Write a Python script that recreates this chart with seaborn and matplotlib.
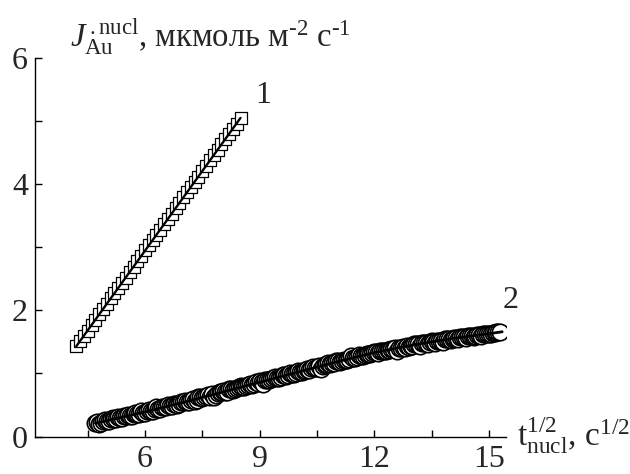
import matplotlib
matplotlib.use("Agg")
import matplotlib.pyplot as plt
import seaborn as sns
import pandas as pd

# ---- data ----
x1 = [4.2, 4.3, 4.4, 4.5, 4.6, 4.7, 4.8, 4.9, 5.0, 5.1, 5.2, 5.3, 5.4, 5.5, 5.6,
      5.7, 5.8, 5.9, 6.0, 6.1, 6.2, 6.3, 6.4, 6.5, 6.6, 6.7, 6.8, 6.9, 7.0, 7.1,
      7.2, 7.3, 7.4, 7.5, 7.6, 7.7, 7.8, 7.9, 8.0, 8.1, 8.2, 8.3, 8.4, 8.5]
y1 = [1.43, 1.51, 1.60, 1.68, 1.77, 1.85, 1.94, 2.02, 2.10, 2.19, 2.27, 2.36, 2.44,
      2.52, 2.61, 2.69, 2.78, 2.86, 2.95, 3.03, 3.11, 3.20, 3.28, 3.37, 3.45, 3.53,
      3.62, 3.70, 3.79, 3.87, 3.95, 4.04, 4.12, 4.21, 4.29, 4.38, 4.46, 4.54, 4.63,
      4.71, 4.80, 4.88, 4.96, 5.05]
fit1_x = [4.2, 8.5]
fit1_y = [1.43, 5.05]

x2_a = [4.7, 4.8, 4.9, 5.0, 5.1, 5.2, 5.3, 5.4, 5.5, 5.6, 5.7, 5.8, 5.9, 6.0, 6.1,
        6.2, 6.3, 6.4, 6.5, 6.6, 6.7, 6.8, 6.9, 7.0, 7.1, 7.2, 7.3, 7.4, 7.5, 7.6,
        7.7, 7.8, 7.9, 8.0, 8.1, 8.2, 8.3, 8.4, 8.5, 8.6, 8.7, 8.8, 8.9, 9.0, 9.1,
        9.2, 9.3, 9.4, 9.5, 9.6, 9.7, 9.8, 9.9, 10.0, 10.1, 10.2, 10.3, 10.4, 10.5,
        10.6, 10.7, 10.8, 10.9, 11.0, 11.1, 11.2, 11.3, 11.4, 11.5, 11.6, 11.7, 11.8,
        11.9, 12.0, 12.1, 12.2, 12.3, 12.4, 12.5, 12.6, 12.7, 12.8, 12.9, 13.0, 13.1,
        13.2, 13.3, 13.4, 13.5, 13.6, 13.7, 13.8, 13.9, 14.0, 14.1, 14.2, 14.3, 14.4,
        14.5, 14.6, 14.7, 14.8, 14.9, 15.0, 15.1, 15.2, 15.3]
y2_a = [0.21, 0.20, 0.25, 0.24, 0.28, 0.27, 0.31, 0.30, 0.33, 0.32, 0.36, 0.35, 0.40,
        0.37, 0.42, 0.40, 0.46, 0.44, 0.47, 0.50, 0.48, 0.52, 0.51, 0.55, 0.54, 0.58,
        0.57, 0.62, 0.61, 0.64, 0.63, 0.62, 0.69, 0.71, 0.70, 0.75, 0.74, 0.77, 0.80,
        0.78, 0.82, 0.81, 0.86, 0.88, 0.83, 0.90, 0.91, 0.94, 0.92, 0.97, 0.96, 1.00,
        0.99, 1.04, 1.02, 1.06, 1.05, 1.10, 1.09, 1.07, 1.14, 1.17, 1.16, 1.19, 1.18,
        1.22, 1.21, 1.27, 1.24, 1.29, 1.27, 1.31, 1.30, 1.34, 1.32, 1.36, 1.35, 1.37,
        1.38, 1.36, 1.41, 1.40, 1.42, 1.44, 1.47, 1.44, 1.49, 1.47, 1.51, 1.49, 1.52,
        1.50, 1.55, 1.53, 1.56, 1.54, 1.58, 1.56, 1.59, 1.58, 1.61, 1.60, 1.62, 1.62,
        1.64, 1.65, 1.66]
x2_b = [4.75, 4.85, 4.95, 5.05, 5.15, 5.25, 5.35, 5.45, 5.55, 5.65, 5.75, 5.85, 5.95,
        6.05, 6.15, 6.25, 6.35, 6.45, 6.55, 6.65, 6.75, 6.85, 6.95, 7.05, 7.15, 7.25,
        7.35, 7.45, 7.55, 7.65, 7.75, 7.85, 7.95, 8.05, 8.15, 8.25, 8.35, 8.45, 8.55,
        8.65, 8.75, 8.85, 8.95, 9.05, 9.15, 9.25, 9.35, 9.45, 9.55, 9.65, 9.75, 9.85,
        9.95, 10.05, 10.15, 10.25, 10.35, 10.45, 10.55, 10.65, 10.75, 10.85, 10.95,
        11.05, 11.15, 11.25, 11.35, 11.45, 11.55, 11.65, 11.75, 11.85, 11.95, 12.05,
        12.15, 12.25, 12.35, 12.45, 12.55, 12.65, 12.75, 12.85, 12.95, 13.05, 13.15,
        13.25, 13.35, 13.45, 13.55, 13.65, 13.75, 13.85, 13.95, 14.05, 14.15, 14.25,
        14.35, 14.45, 14.55, 14.65, 14.75, 14.85, 14.95, 15.05, 15.15, 15.25]
y2_b = [0.23, 0.22, 0.26, 0.25, 0.29, 0.28, 0.29, 0.32, 0.34, 0.33, 0.37, 0.36, 0.38,
        0.41, 0.40, 0.44, 0.43, 0.47, 0.46, 0.49, 0.52, 0.50, 0.54, 0.56, 0.55, 0.59,
        0.58, 0.62, 0.63, 0.65, 0.67, 0.66, 0.70, 0.72, 0.71, 0.75, 0.76, 0.78, 0.79,
        0.80, 0.83, 0.84, 0.85, 0.87, 0.89, 0.90, 0.92, 0.93, 0.95, 0.97, 0.98, 0.99,
        1.01, 1.03, 1.04, 1.07, 1.08, 1.09, 1.11, 1.12, 1.15, 1.15, 1.17, 1.19, 1.20,
        1.22, 1.23, 1.25, 1.26, 1.28, 1.29, 1.31, 1.32, 1.34, 1.35, 1.36, 1.37, 1.38,
        1.40, 1.41, 1.42, 1.43, 1.44, 1.46, 1.46, 1.48, 1.48, 1.50, 1.50, 1.52, 1.52,
        1.54, 1.54, 1.55, 1.56, 1.57, 1.58, 1.59, 1.59, 1.60, 1.61, 1.62, 1.63, 1.63,
        1.64, 1.65]
fit2_x = [4.7, 6.0, 7.0, 8.0, 9.0, 10.0, 11.0, 12.0, 13.0, 14.0, 15.0, 15.35]
fit2_y = [0.21, 0.39, 0.54, 0.70, 0.86, 1.02, 1.18, 1.33, 1.45, 1.55, 1.63, 1.66]

x_major = [6, 9, 12, 15]
y_major = [0, 2, 4, 6]

df1 = pd.DataFrame({"x": x1, "y": y1})
df2 = pd.DataFrame({"x": x2_a + x2_b, "y": y2_a + y2_b}).sort_values("x")
f1 = pd.DataFrame({"x": fit1_x, "y": fit1_y})
f2 = pd.DataFrame({"x": fit2_x, "y": fit2_y})

sns.set_theme(style="ticks")
plt.rcParams["font.family"] = ["Liberation Serif", "DejaVu Serif"]
plt.rcParams["mathtext.fontset"] = "custom"
plt.rcParams["mathtext.rm"] = "Liberation Serif"
plt.rcParams["mathtext.it"] = "Liberation Serif:italic"

fig = plt.figure(figsize=(6.3, 4.74), dpi=100)
ax = fig.add_axes([35 / 630, 1 - 436.5 / 474, (506 - 35) / 630, (436.5 - 58) / 474])

sns.scatterplot(data=df1, x="x", y="y", marker="s", s=85, facecolor="white",
                edgecolor="black", linewidth=0.9, ax=ax, zorder=2, legend=False)
sns.scatterplot(data=df2, x="x", y="y", marker="o", s=140, facecolor="white",
                edgecolor="black", linewidth=1.2, ax=ax, zorder=2, legend=False)
sns.lineplot(data=f1, x="x", y="y", color="black", linewidth=1.7, ax=ax,
             zorder=3, sort=False)
sns.lineplot(data=f2, x="x", y="y", color="black", linewidth=2.0, ax=ax,
             zorder=3, sort=False)

ax.set_xlim(3.12, 15.45)
ax.set_ylim(0, 6)
ax.set_xticks(x_major)
ax.set_xticklabels([str(v) for v in x_major])
ax.set_yticks(y_major)
ax.set_yticklabels([str(v) for v in y_major])
ax.set_xticks([4.5, 7.5, 10.5, 13.5], minor=True)
ax.set_yticks([1, 3, 5], minor=True)
ax.tick_params(which="both", direction="in", color="black", width=1.0)
ax.tick_params(which="major", length=5, labelsize=23, pad=5)
ax.tick_params(which="minor", length=5)
ax.tick_params(axis="x", pad=6)
ax.set_xlabel("")
ax.set_ylabel("")
for s in ["top", "right"]:
    ax.spines[s].set_visible(False)
for s in ["left", "bottom"]:
    ax.spines[s].set_color("black")
    ax.spines[s].set_linewidth(1.0)
ax.grid(False)

ax.text(9.09, 5.40, "1", fontsize=23, ha="center", va="center")
ax.text(15.58, 2.15, "2", fontsize=23, ha="center", va="center", clip_on=False)

fig.text(70 / 630, 1 - 47 / 474,
         "$\\mathit{J}^{\\,.\\mathrm{nucl}}_{\\mathrm{Au}}$, мкмоль м$^{\u20102}$ с$^{\u20101}$",
         fontsize=23.5, ha="left", va="baseline")
fig.text(517 / 630, 1 - 446 / 474,
         r"$\mathrm{t}^{1/2}_{\mathrm{nucl}}$, с$^{1/2}$",
         fontsize=24, ha="left", va="baseline")

fig.savefig("out.png", dpi=100)
